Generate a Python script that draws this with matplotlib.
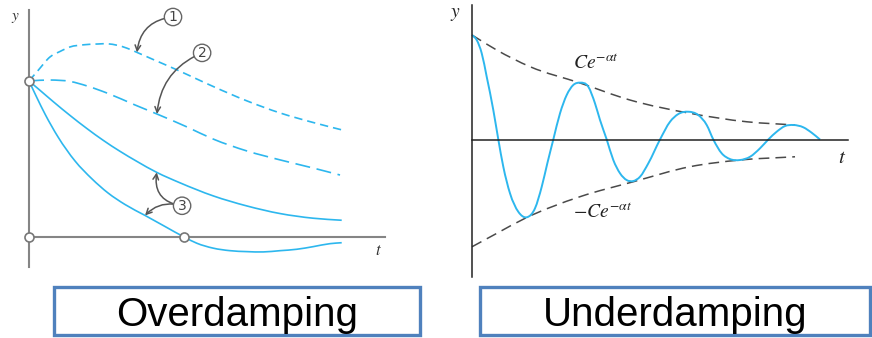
import matplotlib
matplotlib.use("Agg")
import matplotlib.pyplot as plt
from matplotlib.patches import Rectangle, PathPatch
from matplotlib.path import Path

plt.rcParams["mathtext.fontset"] = "stix"

# ---- overdamping (left), t scaled so curves end near t = 10, y(0) = 1 ----
T1 = [0, 0.288, 0.671, 0.990, 1.310, 1.757, 2.204, 2.524, 2.812, 3.131, 3.450,
      3.962, 4.728, 5.463, 5.879, 6.965, 8.019, 9.073, 10.0]
Y1 = [1.0, 1.067, 1.154, 1.189, 1.218, 1.232, 1.237, 1.238, 1.229, 1.210, 1.183,
      1.138, 1.071, 1.003, 0.965, 0.872, 0.795, 0.734, 0.686]

T2 = [0, 0.671, 1.310, 1.853, 2.524, 3.387, 4.089, 5.048, 5.879, 6.965, 8.019, 9.073, 9.936]
Y2 = [1.0, 1.006, 0.997, 0.968, 0.920, 0.846, 0.788, 0.705, 0.628, 0.551, 0.494, 0.442, 0.397]

T3A = [0, 0.351, 0.776, 1.310, 1.843, 2.374, 2.907, 3.441, 4.080, 4.824, 5.888,
       6.955, 8.019, 9.083, 9.990]
Y3A = [1.0, 0.940, 0.867, 0.779, 0.696, 0.619, 0.549, 0.485, 0.414, 0.347, 0.263,
       0.199, 0.150, 0.120, 0.107]

T3B = [0, 0.256, 0.511, 0.927, 1.470, 2.013, 2.524, 3.067, 3.706, 4.345, 4.952,
       5.358, 5.888, 6.422, 6.955, 7.486, 8.019, 8.553, 9.083, 9.617, 9.990]
Y3B = [1.0, 0.891, 0.788, 0.641, 0.487, 0.372, 0.282, 0.208, 0.138, 0.067, 0.0,
       -0.040, -0.072, -0.088, -0.094, -0.096, -0.088, -0.079, -0.062, -0.043, -0.037]

MARK_T = [0, 0, 4.952]
MARK_Y = [1.0, 0, 0]

# ---- underdamping (right) ----
TU = [0, 0.135, 0.279, 0.422, 0.612, 0.756, 0.899, 1.092, 1.330, 1.572, 1.810,
      2.003, 2.164, 2.336, 2.529, 2.721, 2.911, 3.103, 3.342, 3.534, 3.678, 3.871,
      4.060, 4.253, 4.445, 4.635, 4.828, 5.066, 5.402, 5.690, 5.928, 6.216, 6.503,
      6.744, 6.934, 7.175, 7.414, 7.701, 7.989, 8.276, 8.514, 8.756, 8.994, 9.233,
      9.520, 9.761, 10.0]
YU = [1.0, 0.952, 0.825, 0.601, 0.282, 0.0, -0.260, -0.515, -0.691, -0.744, -0.658,
      -0.452, -0.228, 0.0, 0.251, 0.426, 0.522, 0.544, 0.505, 0.346, 0.187, 0.0,
      -0.196, -0.323, -0.388, -0.397, -0.356, -0.228, 0.0, 0.170, 0.244, 0.266, 0.234,
      0.139, 0.0, -0.132, -0.187, -0.196, -0.165, -0.084, 0.0, 0.075, 0.129, 0.139,
      0.117, 0.065, 0.0]

T_UP = [0, 0.710, 1.667, 3.103, 4.540, 6.264, 7.894, 9.282]
Y_UP = [1.0, 0.856, 0.697, 0.541, 0.378, 0.251, 0.170, 0.139]
T_LO = [0, 0.710, 1.523, 3.103, 4.635, 6.264, 7.701, 9.282]
Y_LO = [-1.026, -0.898, -0.754, -0.547, -0.404, -0.260, -0.196, -0.165]

BLUE = "#2db7ee"
W, H = 872, 338

fig = plt.figure(figsize=(W / 100, H / 100), dpi=100)


def _slopes(x, y):
    n = len(x)
    d = []
    for i in range(n):
        if i == 0:
            d.append((y[1] - y[0]) / (x[1] - x[0]))
        elif i == n - 1:
            d.append((y[-1] - y[-2]) / (x[-1] - x[-2]))
        else:
            h0, h1 = x[i] - x[i - 1], x[i + 1] - x[i]
            s0, s1 = (y[i] - y[i - 1]) / h0, (y[i + 1] - y[i]) / h1
            d.append((s0 * h1 + s1 * h0) / (h0 + h1))
    return d


def smooth(ax, x, y, **kw):
    # smooth cubic line through the read points
    d = _slopes(x, y)
    verts, codes = [(x[0], y[0])], [Path.MOVETO]
    for i in range(len(x) - 1):
        h = x[i + 1] - x[i]
        verts += [(x[i] + h / 3, y[i] + d[i] * h / 3),
                  (x[i + 1] - h / 3, y[i + 1] - d[i + 1] * h / 3),
                  (x[i + 1], y[i + 1])]
        codes += [Path.CURVE4] * 3
    ax.add_patch(PathPatch(Path(verts, codes), fill=False, capstyle="butt", **kw))


def _bare(ax, xlim, ylim, xbound, ybound, color, lw):
    ax.set_xlim(*xlim)
    ax.set_ylim(*ylim)
    ax.set_xticks([])
    ax.set_yticks([])
    ax.patch.set_alpha(0)
    for s in ("top", "right"):
        ax.spines[s].set_visible(False)
    ax.spines["left"].set_position(("data", 0))
    ax.spines["bottom"].set_position(("data", 0))
    ax.spines["left"].set_bounds(*ybound)
    ax.spines["bottom"].set_bounds(*xbound)
    for s in ("left", "bottom"):
        ax.spines[s].set_color(color)
        ax.spines[s].set_linewidth(lw)


# left panel
axl = fig.add_axes([0, 58 / H, 440 / W, 280 / H])
_bare(axl, (-0.927, 13.13), (-0.276, 1.519), (0, 11.37), (-0.19, 1.455), "#858585", 1.5)
smooth(axl, T1, Y1, ec=BLUE, lw=1.2, ls=(0, (5, 3)))
smooth(axl, T2, Y2, ec=BLUE, lw=1.2, ls=(0, (9, 4)))
smooth(axl, T3A, Y3A, ec=BLUE, lw=1.2)
smooth(axl, T3B, Y3B, ec=BLUE, lw=1.2)
axl.plot(MARK_T, MARK_Y, "o", ms=6.5, mfc="white", mec="#777777", mew=1.2, zorder=5, clip_on=False)
axl.text(-0.42, 1.41, "$y$", fontsize=11, ha="center", va="center", color="#333333")
axl.text(11.15, -0.085, "$t$", fontsize=12, ha="center", va="center", color="#333333")

arrow_kw = dict(arrowstyle="->", color="#555555", lw=1.1, shrinkA=6, shrinkB=0)
labels = [("1", (4.60, 1.41)), ("2", (5.53, 1.18)), ("3", (4.89, 0.20))]
targets = [
    ((T1[10], Y1[10]), (4.60, 1.41), 0.4),
    ((T2[6], Y2[6]), (5.53, 1.18), 0.3),
    ((T3A[8], Y3A[8]), (4.89, 0.20), -0.5),
    ((T3B[8], Y3B[8]), (4.89, 0.20), 0.3),
]
for xy, xytext, rad in targets:
    axl.annotate("", xy=xy, xytext=xytext,
                 arrowprops=dict(connectionstyle=f"arc3,rad={rad}", **arrow_kw))
for txt, pos in labels:
    axl.text(*pos, txt, fontsize=10, ha="center", va="center", color="#444444", zorder=6,
             bbox=dict(boxstyle="circle,pad=0.12", fc="white", ec="#666666", lw=1.0))

# right panel
axr = fig.add_axes([440 / W, 58 / H, 432 / W, 280 / H])
_bare(axr, (-0.92, 11.494), (-1.344, 1.335), (0, 10.8), (-1.316, 1.287), "#222222", 1.1)
smooth(axr, T_UP, Y_UP, ec="#4a4a4a", lw=1.1, ls=(0, (7, 4)))
smooth(axr, T_LO, Y_LO, ec="#4a4a4a", lw=1.1, ls=(0, (7, 4)))
smooth(axr, TU, YU, ec=BLUE, lw=1.4)
axr.text(-0.49, 1.21, "$y$", fontsize=14, ha="center", va="center", color="#222222")
axr.text(10.63, -0.165, "$t$", fontsize=15, ha="center", va="center", color="#222222")
axr.text(2.90, 0.73, r"$Ce^{-\alpha t}$", fontsize=14, ha="left", va="center", color="#222222")
axr.text(2.90, -0.70, r"$-Ce^{-\alpha t}$", fontsize=14, ha="left", va="center", color="#222222")

# caption boxes
for x0, x1, label in [(54, 420, "Overdamping"), (480, 870, "Underdamping")]:
    fig.add_artist(Rectangle((x0 / W, 3 / H), (x1 - x0) / W, 48.5 / H, transform=fig.transFigure,
                             fill=False, ec="#4f81bd", lw=2.4))
    fig.text((x0 + x1) / 2 / W, 11.5 / H, label, ha="center", va="baseline",
             fontsize=29, family="Liberation Sans", color="black")

fig.savefig("out.png", dpi=100)
